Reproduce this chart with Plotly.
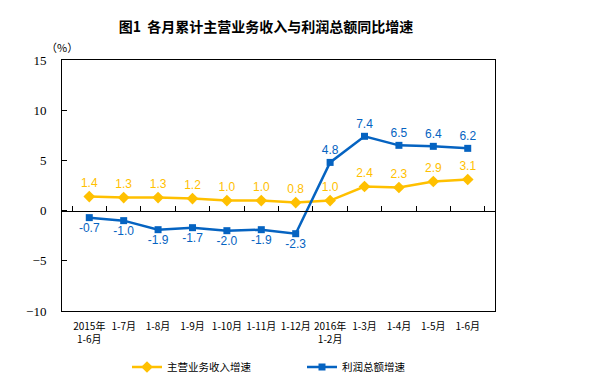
import plotly.graph_objects as go

categories = ["2015年<br>1-6月", "1-7月", "1-8月", "1-9月", "1-10月", "1-11月", "1-12月",
              "2016年<br>1-2月", "1-3月", "1-4月", "1-5月", "1-6月"]
revenue = [1.4, 1.3, 1.3, 1.2, 1.0, 1.0, 0.8, 1.0, 2.4, 2.3, 2.9, 3.1]
profit = [-0.7, -1.0, -1.9, -1.7, -2.0, -1.9, -2.3, 4.8, 7.4, 6.5, 6.4, 6.2]
y_ticks = [-10, -5, 0, 5, 10, 15]

YELLOW = "#FFC000"
BLUE = "#0563C1"
cjk = "Noto Sans CJK SC"
W, H = 601, 379
OFF = 8  # page body margin offset

fig = go.Figure()
fig.add_trace(go.Scatter(
    x=categories, y=revenue, name="主营业务收入增速",
    mode="lines+markers+text",
    line=dict(color=YELLOW, width=2.5),
    marker=dict(symbol="diamond", size=9, color=YELLOW),
    text=[f"{v:.1f}" for v in revenue], textposition="top center",
    textfont=dict(color=YELLOW, size=12, family="Liberation Sans"),
))
fig.add_trace(go.Scatter(
    x=categories, y=profit, name="利润总额增速",
    mode="lines+markers+text",
    line=dict(color=BLUE, width=2.5),
    marker=dict(symbol="square", size=7, color=BLUE),
    text=[f"{v:.1f}" for v in profit],
    textposition=["bottom center" if v < 0 else "top center" for v in profit],
    textfont=dict(color=BLUE, size=12, family="Liberation Sans"),
))
# invisible trace to drive the zero-line axis with tick marks
fig.add_trace(go.Scatter(x=categories, y=[None] * len(categories), xaxis="x2",
                         showlegend=False, hoverinfo="skip"))

fig.update_layout(
    width=W, height=H,
    margin=dict(l=62 - OFF, r=W - 495 + OFF, t=60 - OFF, b=H - 311 + OFF, autoexpand=False),
    plot_bgcolor="white", paper_bgcolor="white",
    title=dict(text="<b>图1  各月累计主营业务收入与利润总额同比增速</b>",
               x=(266 - OFF) / W, xref="container", xanchor="center",
               y=1 - (27 - OFF) / H, yref="container", yanchor="middle",
               font=dict(family=cjk, size=14, color="#000")),
    xaxis=dict(type="category", showgrid=False, showline=True, linecolor="#000",
               linewidth=1, mirror=True, ticks="", tickangle=0, automargin=False,
               ticklabelstandoff=6,
               tickfont=dict(family=cjk, size=10, color="#000")),
    xaxis2=dict(type="category", overlaying="x", anchor="free", position=0.4,
                showgrid=False, showline=True, linecolor="#000", linewidth=1,
                ticks="inside", ticklen=5, tickcolor="#000", tickson="boundaries",
                showticklabels=False, matches="x", automargin=False),
    yaxis=dict(range=[-10, 15], tickvals=y_ticks, showgrid=False, zeroline=False,
               showline=True, linecolor="#000", mirror=True, ticks="inside",
               ticklen=5, tickcolor="#000", ticklabelstandoff=12, automargin=False,
               tickfont=dict(family="Liberation Serif", size=13, color="#000")),
    legend=dict(orientation="h", xref="container", x=(127 - OFF) / W, xanchor="left",
                yref="container", y=1 - (367 - OFF) / H, yanchor="middle",
                font=dict(family=cjk, size=10.5, color="#000"),
                entrywidth=130, itemwidth=30),
    showlegend=True,
)
fig.add_annotation(text="（%）", xref="paper", yref="paper",
                   x=(44 - 62) / 433, y=(311 - 47) / 251, showarrow=False,
                   xanchor="left", yanchor="middle",
                   font=dict(family=cjk, size=11, color="#000"))

fig.write_html("out.html")
